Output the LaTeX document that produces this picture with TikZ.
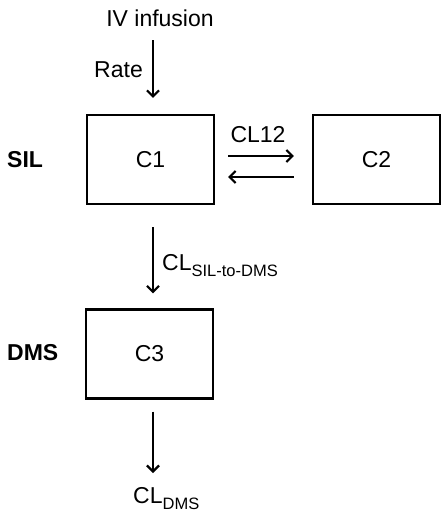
\documentclass[tikz,border=0pt]{standalone}
\usepackage{fontspec}
\setmainfont{Liberation Sans}
\usetikzlibrary{arrows.meta}
\begin{document}
\begin{tikzpicture}[x=1pt,y=-1pt,
  every node/.style={font=\fontsize{23}{27}\selectfont, inner sep=0pt},
  compbox/.style={draw, line width=2.2pt, minimum width=127pt, minimum height=89pt},
  flow/.style={line width=2.2pt, -{Straight Barb[length=6pt,width=12pt,line width=2.2pt]}},
  lbl/.style={font=\fontsize{23}{27}\bfseries\selectfont},
]
\newcommand{\subtxt}[1]{\raisebox{-0.3em}{\fontsize{16.5}{18}\selectfont #1}}
\useasboundingbox (0,0) rectangle (443,517);

% compartments
\node[compbox] (c1) at (150.5,159.5) {C1};
\node[compbox] (c2) at (376.5,159.5) {C2};
\node[compbox] (c3) at (149.5,354) {C3};

% side labels
\node[lbl, anchor=west] (sil) at (7,160) {SIL};
\node[lbl, anchor=west] (dms) at (7,353) {DMS};

% dosing input
\node (iv) at (160,18) {IV infusion};
\node[anchor=east] (rate) at (143,70) {Rate};
\coordinate (rtop) at (153,40);
\draw[flow, shorten >=16pt] (rtop) -- (rtop |- c1.north);

% exchange between C1 and C2
\node (cl12) at (258,135) {CL12};
\draw[flow, shorten <=13pt, shorten >=18pt] ([yshift=3.5pt]c1.east) -- ([yshift=3.5pt]c2.west);
\draw[flow, shorten <=18pt, shorten >=13pt] ([yshift=-17.5pt]c2.west) -- ([yshift=-17.5pt]c1.east);

% conversion C1 -> C3
\coordinate (tx) at (153,0);
\draw[flow, shorten <=22pt, shorten >=15pt] (tx |- c1.south) -- (tx |- c3.north);
\node[anchor=base west] (clconv) at (162,270) {CL\subtxt{SIL-to-DMS}};

% elimination from C3
\node[anchor=base west] (cldms) at (133,503) {CL\subtxt{DMS}};
\coordinate (elimend) at (153,473);
\draw[flow, shorten <=12pt] (tx |- c3.south) -- (elimend);
\end{tikzpicture}
\end{document}
